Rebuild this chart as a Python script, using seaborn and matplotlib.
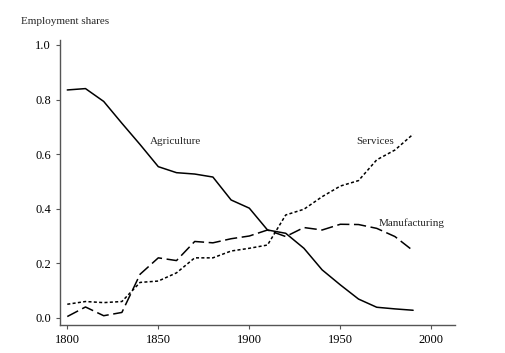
import matplotlib
matplotlib.use("Agg")
import matplotlib.pyplot as plt
import seaborn as sns
import pandas as pd

years = list(range(1800, 2000, 10))
agriculture = [0.835, 0.84, 0.793, 0.713, 0.635, 0.554, 0.532, 0.527, 0.516, 0.432,
               0.402, 0.322, 0.31, 0.255, 0.176, 0.121, 0.069, 0.039, 0.033, 0.028]
manufacturing = [0.005, 0.04, 0.008, 0.02, 0.16, 0.22, 0.21, 0.28, 0.275, 0.29,
                 0.30, 0.322, 0.298, 0.331, 0.322, 0.343, 0.342, 0.328, 0.298, 0.246]
services = [0.05, 0.06, 0.056, 0.06, 0.13, 0.135, 0.165, 0.22, 0.22, 0.245,
            0.255, 0.267, 0.377, 0.398, 0.444, 0.483, 0.503, 0.579, 0.615, 0.673]

df = pd.DataFrame({"year": years * 3,
                   "share": agriculture + manufacturing + services,
                   "sector": ["Agriculture"] * 20 + ["Manufacturing"] * 20 + ["Services"] * 20})

sns.set_style("ticks")
plt.rcParams['font.family'] = ['Liberation Serif', 'DejaVu Serif']

fig = plt.figure(figsize=(5.05, 3.53), dpi=100)
ax = fig.add_axes([60 / 505, 28 / 353, 395 / 505, 285 / 353])

sns.lineplot(data=df, x="year", y="share", style="sector", color="black",
             dashes={"Agriculture": "", "Manufacturing": (8, 3), "Services": (2, 1.5)},
             linewidth=1.1, legend=False, ax=ax)

ax.set_xlim(1796, 2013)
ax.set_ylim(-0.026, 1.018)
ax.set_xticks([1800, 1850, 1900, 1950, 2000])
ax.set_yticks([0.0, 0.2, 0.4, 0.6, 0.8, 1.0])
ax.set_yticklabels(["0.0", "0.2", "0.4", "0.6", "0.8", "1.0"])
ax.set_xlabel("")
ax.set_ylabel("")
sns.despine(ax=ax)
for s in ["left", "bottom"]:
    ax.spines[s].set_color("#555555")
    ax.spines[s].set_linewidth(1.0)
ax.tick_params(colors="#555555", labelcolor="black", labelsize=9, length=3, width=0.8)

ax.text(1845.6, 0.648, "Agriculture", fontsize=8, va="center")
ax.text(1958.8, 0.648, "Services", fontsize=8, va="center")
ax.text(1971.3, 0.348, "Manufacturing", fontsize=8, va="center")
fig.text(21 / 505, 1 - 21 / 353, "Employment shares", fontsize=8, va="center")

fig.savefig("out.png", dpi=100)
